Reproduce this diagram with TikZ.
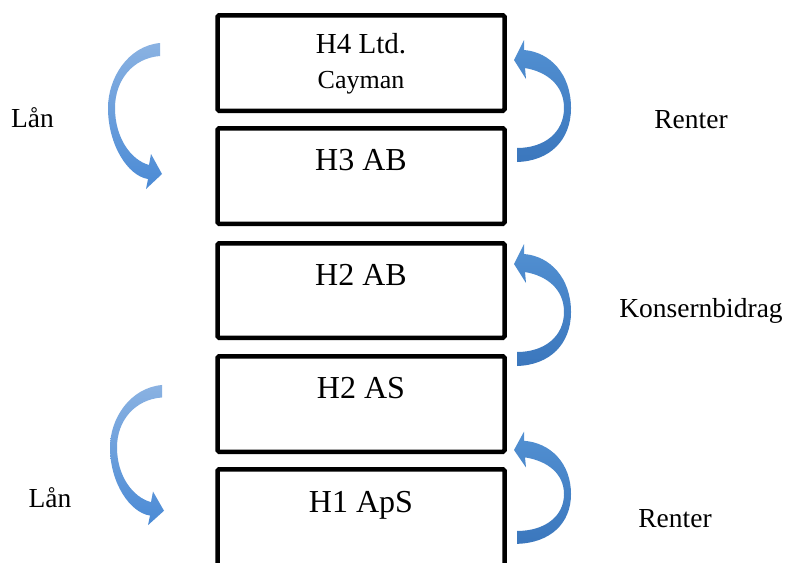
\documentclass[tikz,border=0pt]{standalone}
\usepackage{fontspec}
\setmainfont{Liberation Serif}
\begin{document}
\begin{tikzpicture}[x=1pt,y=-1pt,
  company/.style={draw=black, line width=4.5pt, rounded corners=1.5pt, fill=white,
    minimum width=287pt, inner sep=0pt},
  boxtext/.style={anchor=base, inner sep=0pt, font=\fontsize{32}{36}\selectfont},
  sidetext/.style={anchor=base, inner sep=0pt, font=\fontsize{27.5}{32}\selectfont},
  lanarrow/.style={top color=lanlight, bottom color=landark, draw=none},
  renterarrow/.style={top color=renterlight, bottom color=renterdark, draw=none}]
\definecolor{lanlight}{HTML}{8AB2E2}
\definecolor{landark}{HTML}{4A8AD5}
\definecolor{renterlight}{HTML}{5290D2}
\definecolor{renterdark}{HTML}{3B77BD}
\useasboundingbox (0,0) rectangle (791,562);
\fill[white] (0,0) rectangle (791,562);

% company boxes
\node[company, minimum height=95.5pt] (h4) at (361,63) {};
\node[company, minimum height=95.5pt] (h3) at (361,176) {};
\node[company, minimum height=94.5pt] (h2ab) at (361,290.5) {};
\node[company, minimum height=95.5pt] (h2as) at (361,404) {};
\node[company, minimum height=120pt] (h1) at (361,529.25) {};

% company names
\node[boxtext, font=\fontsize{29}{32}\selectfont] (t4a) at (361,53) {H4 Ltd.};
\node[boxtext, font=\fontsize{26}{30}\selectfont] (t4b) at (361,88) {Cayman};
\node[boxtext] (t3) at (361,170) {H3 AB};
\node[boxtext] (t2ab) at (361,285) {H2 AB};
\node[boxtext] (t2as) at (361,398) {H2 AS};
\node[boxtext] (t1) at (361,512) {H1 ApS};

% flow labels
\node[sidetext] (lan1) at (32.5,127) {Lån};
\node[sidetext] (lan2) at (50,507) {Lån};
\node[sidetext] (ren1) at (691,128) {Renter};
\node[sidetext] (kons) at (701,317) {Konsernbidrag};
\node[sidetext] (ren2) at (675,527) {Renter};

% curved block arrow on the left (loan, pointing down)
\def\lanpath{(160,43) .. controls (128,46) and (108,78) .. (108,108)
  .. controls (108,145) and (128,176) .. (148,179)
  -- (146,189) -- (162,174) -- (151,154) -- (149,165)
  .. controls (131,160) and (115,138) .. (115,108)
  .. controls (115,80) and (133,58) .. (160,56) -- cycle}
% curved block arrow on the right (interest / contribution, pointing up)
\def\renterpath{(517,162) .. controls (550,161) and (571,140) .. (571,108)
  .. controls (571,74) and (550,52) .. (524,50)
  -- (524,40) -- (514,60) -- (526,79) -- (525,68)
  .. controls (548,72) and (564,86) .. (564,108)
  .. controls (564,132) and (545,148) .. (517,148) -- cycle}

\path[lanarrow] \lanpath;
\begin{scope}[shift={(2,343.7)}, yscale=0.96]
  \path[lanarrow] \lanpath;
\end{scope}
\path[renterarrow] \renterpath;
\begin{scope}[shift={(0,204)}]
  \path[renterarrow] \renterpath;
\end{scope}
\begin{scope}[shift={(0,394.8)}, yscale=0.92]
  \path[renterarrow] \renterpath;
\end{scope}
\end{tikzpicture}
\end{document}
